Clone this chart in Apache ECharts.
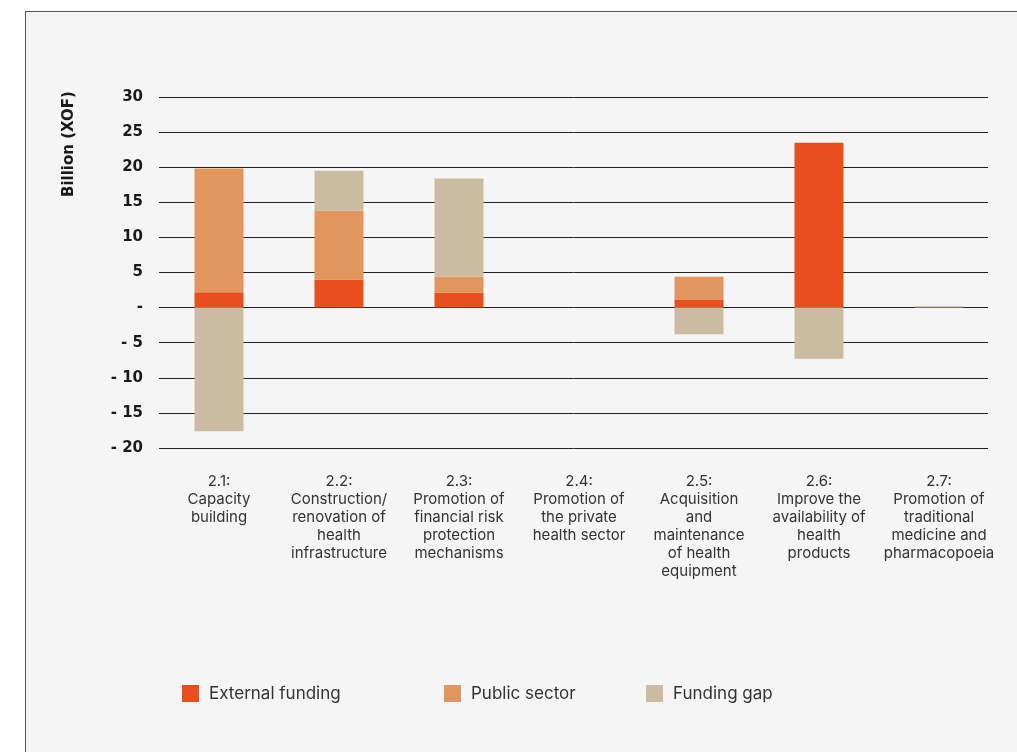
<!DOCTYPE html>
<html>
<head>
<meta charset="utf-8">
<script src="https://cdn.jsdelivr.net/npm/echarts@6/dist/echarts.min.js"></script>
<style>
  html, body { margin: 0; padding: 0; background: #ffffff; }
  #frame {
    position: absolute; left: 25px; top: 11px; right: -2px; bottom: -2px;
    background: #f5f5f5; border-left: 1px solid #555; border-top: 1px solid #555;
  }
  #chart { position: absolute; left: 0; top: 0; width: 1017px; height: 752px; }
</style>
</head>
<body>
<div id="frame"></div>
<div id="chart"></div>
<script>
// Strategic axis 2 components
const categories = [
  '2.1:\nCapacity\nbuilding',
  '2.2:\nConstruction/\nrenovation of\nhealth\ninfrastructure',
  '2.3:\nPromotion of\nfinancial risk\nprotection\nmechanisms',
  '2.4:\nPromotion of\nthe private\nhealth sector',
  '2.5:\nAcquisition\nand\nmaintenance\nof health\nequipment',
  '2.6:\nImprove the\navailability of\nhealth\nproducts',
  '2.7:\nPromotion of\ntraditional\nmedicine and\npharmacopoeia'
];

// Billion XOF
const externalFunding = [2.2, 4.0, 2.1, 0, 1.1, 23.5, 0];
const publicSector    = [17.6, 9.8, 2.3, 0, 3.3, 0, 0];
const fundingGap      = [-17.6, 5.7, 14.0, 0, -3.8, -7.3, 0.2];

const yTicks = { min: -20, max: 30, interval: 5 };

const colors = { external: '#E94F1D', public: '#E2965E', gap: '#CBBBA1' };
const font = 'Inter';
const boldFont = 'DejaVu Sans';

const chart = echarts.init(document.getElementById('chart'), null, { renderer: 'canvas' });

function yLabel(v) {
  if (v === 0) return '-';
  if (v < 0) return '- ' + (-v);
  return String(v);
}

const legendBase = {
  top: 685,
  padding: 0,
  itemWidth: 17,
  itemHeight: 17,
  icon: 'rect',
  textStyle: { fontFamily: font, fontSize: 17, color: '#333', padding: [0, 0, 0, 5] }
};

chart.setOption({
  animation: false,
  grid: [
    { left: 159, right: 29, top: 97, bottom: 304 },
    { left: 159, right: 18, top: 97, bottom: 304 }
  ],
  legend: [
    Object.assign({ left: 182, data: ['External funding'] }, legendBase),
    Object.assign({ left: 444, data: ['Public sector'] }, legendBase),
    Object.assign({ left: 646, data: ['Funding gap'] }, legendBase)
  ],
  graphic: [{
    type: 'text',
    x: 62, y: 197,
    rotation: Math.PI / 2,
    style: {
      text: 'Billion (XOF)',
      font: 'bold 15px "' + boldFont + '"',
      fill: '#1a1a1a',
      textAlign: 'left',
      textVerticalAlign: 'top'
    }
  }],
  xAxis: [
    { gridIndex: 0, type: 'category', data: categories, show: false },
    {
      gridIndex: 1, type: 'category', data: categories,
      axisLine: { show: false }, axisTick: { show: false },
      axisLabel: {
        interval: 0, margin: 24, fontFamily: font, fontSize: 15,
        lineHeight: 18, color: '#333', align: 'center'
      }
    }
  ],
  yAxis: [
    {
      gridIndex: 0, type: 'value',
      min: yTicks.min, max: yTicks.max, interval: yTicks.interval,
      axisLine: { show: false }, axisTick: { show: false },
      splitLine: { lineStyle: { color: '#222', width: 1 } },
      axisLabel: {
        margin: 16, fontFamily: boldFont, fontSize: 15, fontWeight: 'bold',
        color: '#1a1a1a', formatter: yLabel
      }
    },
    {
      gridIndex: 1, type: 'value',
      min: yTicks.min, max: yTicks.max, interval: yTicks.interval,
      show: false, splitLine: { show: false }
    }
  ],
  series: [
    {
      name: 'External funding', type: 'bar', stack: 'total',
      xAxisIndex: 1, yAxisIndex: 1, barWidth: 49,
      itemStyle: { color: colors.external }, data: externalFunding
    },
    {
      name: 'Public sector', type: 'bar', stack: 'total',
      xAxisIndex: 1, yAxisIndex: 1, barWidth: 49,
      itemStyle: { color: colors.public }, data: publicSector
    },
    {
      name: 'Funding gap', type: 'bar', stack: 'total',
      xAxisIndex: 1, yAxisIndex: 1, barWidth: 49,
      itemStyle: { color: colors.gap }, data: fundingGap
    }
  ]
});
</script>
</body>
</html>
